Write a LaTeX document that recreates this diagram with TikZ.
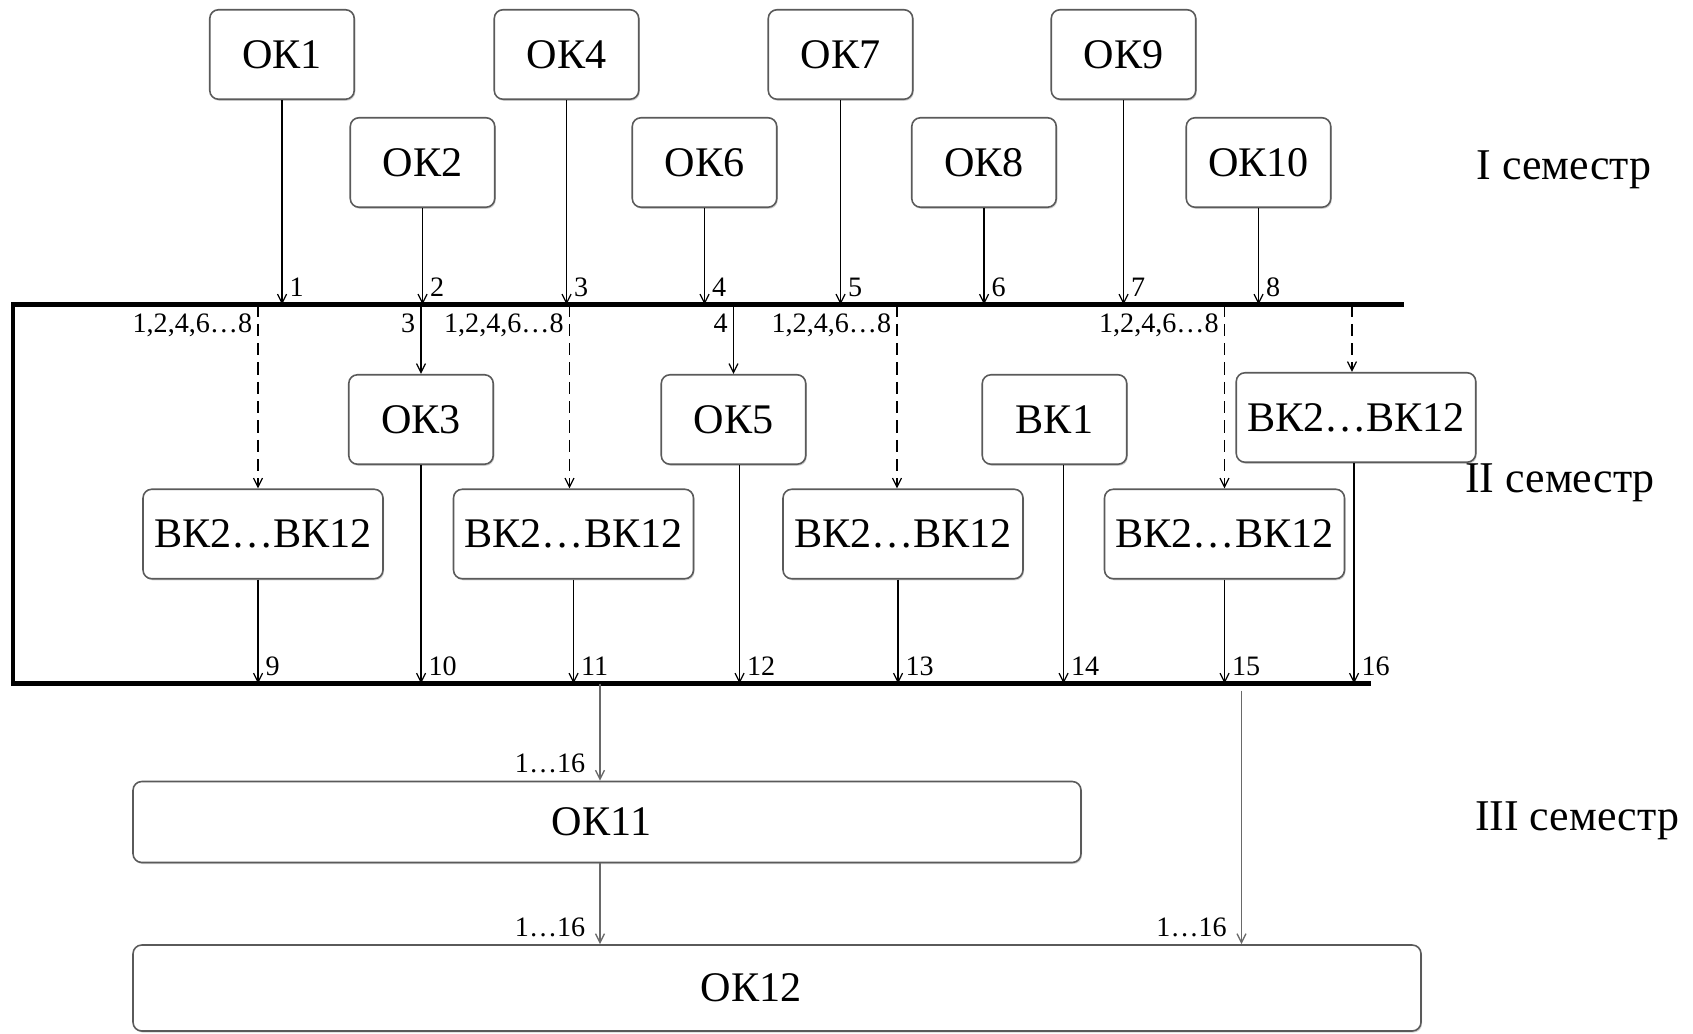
\documentclass[tikz,border=0pt]{standalone}
\usepackage{fontspec}
\setmainfont{Liberation Serif}
\usetikzlibrary{arrows.meta,positioning,shadows}
\definecolor{frame}{RGB}{90,90,90}
\definecolor{wire}{RGB}{105,105,105}
\tikzset{
  >={Straight Barb[length=1.8mm,width=1.8mm]},
  course/.style={draw=frame,line width=0.9pt,rounded corners=5pt,fill=white,
    minimum width=#1,minimum height=1.79cm,align=center,inner sep=2pt,
    font=\fontsize{24}{28}\selectfont,
    drop shadow={shadow xshift=0.6pt,shadow yshift=-0.9pt,opacity=0.35}},
  course/.default=2.89cm,
  link/.style={->,line width=0.7pt},
  optlink/.style={->,line width=0.7pt,dash pattern=on 7pt off 4pt},
  outlink/.style={->,line width=0.8pt,draw=wire},
  bus/.style={line width=2.4pt},
  num/.style={font=\fontsize{16}{18}\selectfont,inner sep=1pt},
  sem/.style={font=\fontsize{25}{30}\selectfont},
}

\begin{document}
\begin{tikzpicture}
  \useasboundingbox (0,0) rectangle (33.86,20.66);
  % I семестр
  \node[course] (ok1) at (5.64,19.57) {ОК1};
  \node[course] (ok4) at (11.33,19.57) {ОК4};
  \node[course] (ok7) at (16.81,19.57) {ОК7};
  \node[course] (ok9) at (22.47,19.57) {ОК9};
  \node[course] (ok2) at (8.45,17.41) {ОК2};
  \node[course] (ok6) at (14.09,17.41) {ОК6};
  \node[course] (ok8) at (19.68,17.41) {ОК8};
  \node[course] (ok10) at (25.17,17.41) {ОК10};
  \node[sem] (s1) at (31.28,17.27) {I семестр};

  % bus lines
  \coordinate (busA) at (0.26,14.57);
  \coordinate (busB) at (28.07,14.57);
  \coordinate (busC) at (0.26,6.99);
  \coordinate (busD) at (27.42,6.99);
  \draw[bus] (busB) -- (busA) -- (busC) -- (busD);

  \foreach \n/\k in {ok1/1,ok2/2,ok4/3,ok6/4,ok7/5,ok8/6,ok9/7,ok10/8}
    \draw[link] (\n) -- (\n |- busA) node[num,anchor=south west,xshift=3pt,yshift=3pt] {\k};

  % II семестр
  \node[course] (ok3) at (8.42,12.27) {ОК3};
  \node[course] (ok5) at (14.67,12.27) {ОК5};
  \node[course] (vk1) at (21.09,12.27) {ВК1};
  \node[course=4.79cm] (el5) at (27.12,12.31) {ВК2…ВК12};
  \node[course=4.8cm] (el1) at (5.26,9.98) {ВК2…ВК12};
  \node[course=4.8cm] (el2) at (11.47,9.98) {ВК2…ВК12};
  \node[course=4.8cm] (el3) at (18.06,9.98) {ВК2…ВК12};
  \node[course=4.8cm] (el4) at (24.49,9.98) {ВК2…ВК12};
  \node[sem] (s2) at (31.2,11.01) {II семестр};

  \foreach \n/\k in {ok3/3,ok5/4}
    \draw[link] (\n |- busA) node[num,anchor=north east,xshift=-2pt,yshift=-4pt] {\k} -- (\n);
  \foreach \n/\d in {el1/-0.1,el2/-0.08,el3/-0.12,el4/0}
    \draw[optlink] ([xshift=\d cm]\n.north |- busA) node[num,anchor=north east,xshift=-2pt,yshift=-4pt] {1,2,4,6…8} -- ([xshift=\d cm]\n.north);
  \draw[optlink] ([xshift=-0.08cm]el5.north |- busA) -- ([xshift=-0.08cm]el5.north);

  \foreach \n/\k/\d in {el1/9/-0.1,ok3/10/0,el2/11/0,ok5/12/0.12,el3/13/-0.1,vk1/14/0.18,el4/15/0,el5/16/-0.04}
    \draw[link] ([xshift=\d cm]\n.south) -- ([xshift=\d cm]\n.south |- busC) node[num,anchor=south west,xshift=3pt,yshift=3pt] {\k};

  % III семестр
  \node[course=18.96cm,minimum height=1.62cm] (ok11) at (12.14,4.22) {\hspace*{-0.22cm}ОК11};
  \node[course=25.76cm,minimum height=1.72cm] (ok12) at (15.54,0.90) {\hspace*{-1.04cm}ОК12};
  \node[sem] (s3) at (31.54,4.25) {III семестр};

  \coordinate (t1) at (12.0,6.99);
  \coordinate (t2) at (24.83,6.85);
  \draw[outlink] (t1) -- (t1 |- ok11.north) node[num,anchor=south east,xshift=-7pt,yshift=3pt] {1…16};
  \draw[outlink] (t1 |- ok11.south) -- (t1 |- ok12.north) node[num,anchor=south east,xshift=-7pt,yshift=3pt] {1…16};
  \draw[outlink] (t2) -- (t2 |- ok12.north) node[num,anchor=south east,xshift=-7pt,yshift=3pt] {1…16};
\end{tikzpicture}
\end{document}
